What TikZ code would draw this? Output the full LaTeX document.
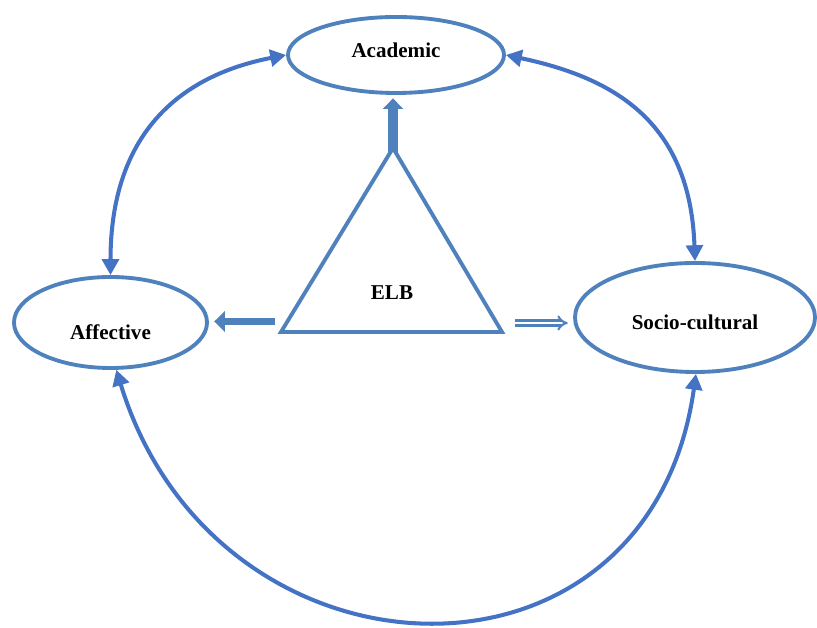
\documentclass[tikz,border=0pt]{standalone}
\usepackage{fontspec}
\setmainfont{Liberation Serif}
\usetikzlibrary{shapes.geometric,arrows.meta}
\definecolor{elbline}{RGB}{79,129,189}
\definecolor{elbarc}{RGB}{68,114,196}
\tikzset{
  dom/.style={ellipse,draw=elbline,line width=2.2pt,inner sep=0pt,font=\bfseries\fontsize{12}{14}\selectfont},
  link/.style={draw=elbarc,line width=2.3pt,{Triangle[length=9pt,width=9.5pt]}-{Triangle[length=9pt,width=9.5pt]}},
  push/.style={draw=elbline,-{Triangle[length=6pt,width=11.5pt]}}
}
% move a label inside its ellipse without changing the ellipse
\newcommand{\lift}[2]{\raisebox{#1}[\height][\depth]{#2}}

\begin{document}
\begin{tikzpicture}
      \useasboundingbox (0,0) rectangle (16.34,12.56);
      \node[dom,minimum width=4.32cm,minimum height=1.52cm] (acad) at (7.92,11.46) {\lift{0.1cm}{Academic}};
      \node[dom,minimum width=3.86cm,minimum height=1.82cm] (aff) at (2.21,6.11) {\lift{-0.2cm}{Affective}};
      \node[dom,minimum width=4.8cm,minimum height=2.18cm] (soc) at (13.9,6.21) {\lift{-0.1cm}{Socio-cultural}};

      \coordinate (apex) at (7.86,9.6);
      \coordinate (bl) at (5.62,5.92);
      \coordinate (br) at (10.04,5.92);
      \draw[elbline,line width=2.2pt,line join=miter] (apex) -- (bl) -- (br) -- cycle;
      \node[font=\bfseries\fontsize{12}{14}\selectfont] (elb) at (7.84,6.7) {ELB};

      \draw[push,line width=5.7pt] ([yshift=-2pt]apex) -- ([yshift=-2pt]apex |- acad.south);
      \coordinate (lt) at (5.5,6.13);
      \draw[push,line width=4.5pt] (lt) -- ([xshift=3pt]lt -| aff.east);
      \coordinate (rt) at (10.3,6.1);
      \draw[elbline,line width=1.2pt,double,double distance=1.6pt,-{Implies[length=5pt]}] (rt) -- ([xshift=-3pt]rt -| soc.west);

      \draw[link] (acad.west) .. controls +(191:2.2) and +(90:2.8) .. (aff.north);
      \draw[link] (acad.east) .. controls +(-12:2.2) and +(92:2.8) .. (soc.north);
      \draw[link] (aff.-83) .. controls +(-73:6.8) and +(-98:6.8) .. (soc.-89);
\end{tikzpicture}
\end{document}
